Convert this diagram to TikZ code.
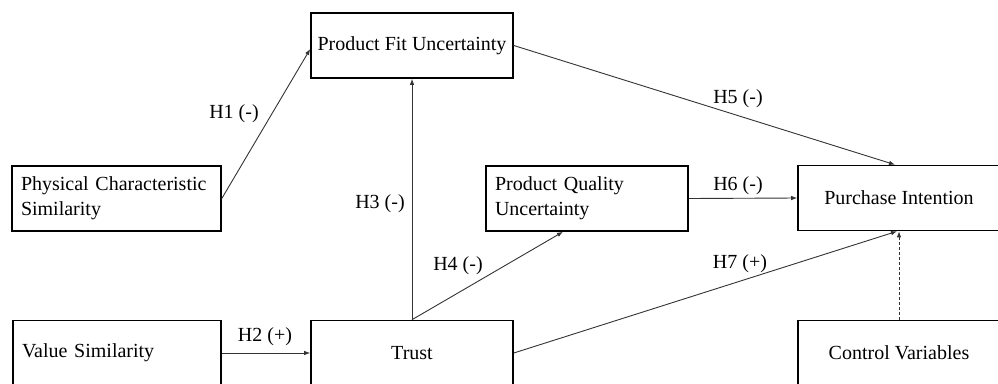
\documentclass[tikz,border=0pt]{standalone}
\usepackage{fontspec}
\setmainfont{Liberation Serif}
\usetikzlibrary{arrows.meta}
\begin{document}
\begin{tikzpicture}[x=1pt,y=-1pt,
  font=\fontsize{20}{25}\selectfont,
  box/.style={draw=black, line width=1.6pt, minimum height=65pt, inner sep=0pt},
  lbox/.style={box, align=left, inner xsep=9pt, text width=#1},
  cbox/.style={box, minimum width=#1, align=center},
  link/.style={draw=black!80, line width=0.9pt, -{Latex[length=6pt,width=4.5pt]}},
  lab/.style={inner sep=0pt}]
\useasboundingbox (0,0) rectangle (998,383);
\clip (0,0) rectangle (998,383);
% boxes
\node[cbox=202pt] (pfu) at (412,45.5) {Product Fit Uncertainty};
\node[lbox=191pt] (pcs) at (116.5,198.5) {Physical Characteristic\\Similarity};
\node[lbox=190pt] (vs) at (117,353) {Value Similarity};
\node[cbox=202pt] (trust) at (412,353) {Trust};
\node[lbox=184pt] (pqu) at (587,198.5) {Product Quality\\Uncertainty};
\node[cbox=202pt] (pi) at (899,198) {Purchase Intention};
\node[cbox=202pt] (cv) at (899,353) {Control Variables};
% connectors
\draw[link] (pcs.east) -- ([yshift=-3.5pt]pfu.west);
\draw[link] (vs.east) -- (trust.west);
\draw[link] (trust.north) -- (pfu.south);
\draw[link] (trust.north) -- ([xshift=-24pt]pqu.south);
\draw[link] (pfu.east) -- ([xshift=-4pt]pi.north);
\draw[link] (pqu.east) -- (pi.west);
\draw[link] (trust.east) -- ([xshift=-2pt]pi.south);
\draw[link, dash pattern=on 3pt off 2pt] (cv.north) -- (pi.south);
% labels
\node[lab] (h1) at (234,114) {H1 (-)};
\node[lab] (h2) at (265,337) {H2 (+)};
\node[lab] (h3) at (380,204) {H3 (-)};
\node[lab] (h4) at (458,266) {H4 (-)};
\node[lab] (h5) at (738,99) {H5 (-)};
\node[lab] (h6) at (738,186) {H6 (-)};
\node[lab] (h7) at (740,264) {H7 (+)};
\end{tikzpicture}
\end{document}
